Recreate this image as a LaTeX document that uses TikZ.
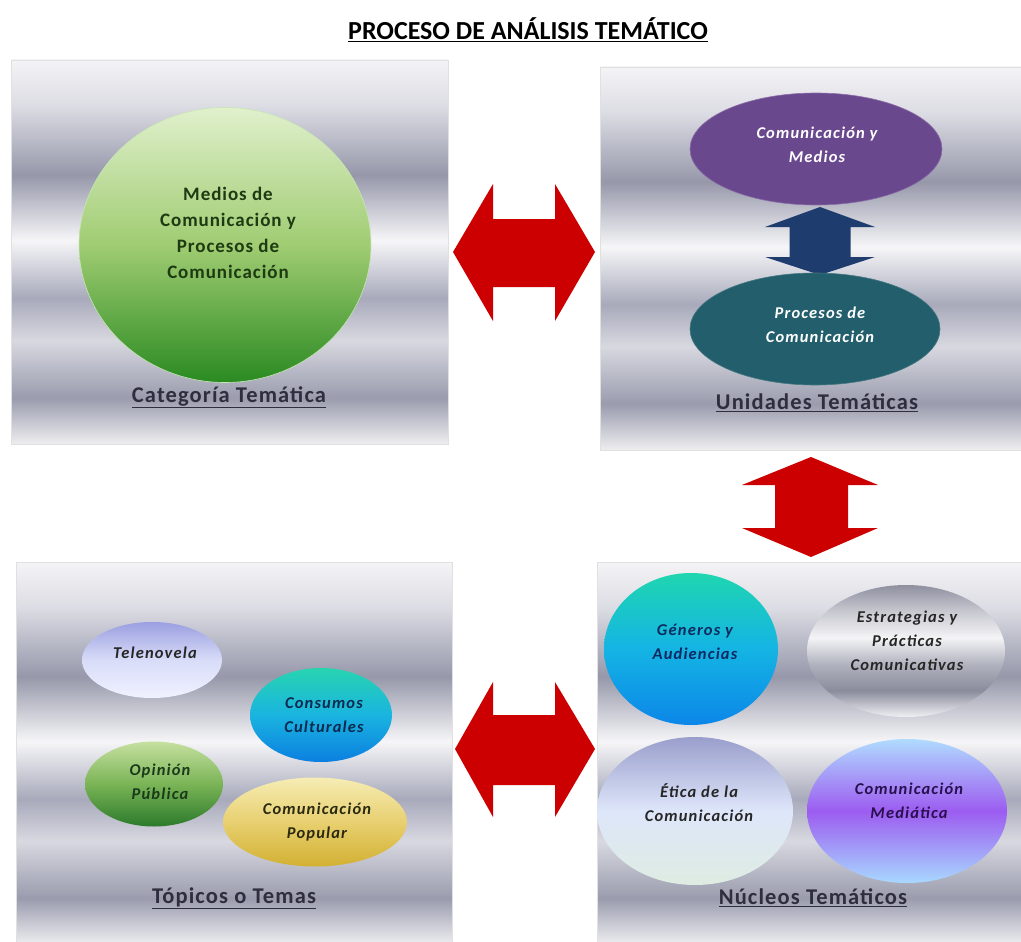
\documentclass[tikz,border=0pt]{standalone}
\usepackage{fontspec}
\setmainfont{Carlito}
\newfontfamily\lsfont[LetterSpace=7]{Carlito}
\newfontfamily\lbfont[LetterSpace=5]{Carlito}
\usetikzlibrary{shapes.geometric}
\definecolor{mA}{HTML}{F4F4F6}
\definecolor{mB}{HTML}{DCDCE4}
\definecolor{mC}{HTML}{9698AA}
\definecolor{mD}{HTML}{F6F6F8}
\definecolor{mE}{HTML}{A8AABB}
\definecolor{mF}{HTML}{D8D8E0}
\definecolor{mG}{HTML}{9A9CAE}
\definecolor{mH}{HTML}{EEEEF0}
\pgfdeclareverticalshading{metal}{100bp}{color(0bp)=(mH); color(25bp)=(mH); color(31bp)=(mG); color(38.5bp)=(mF); color(44bp)=(mE); color(51.5bp)=(mD); color(60bp)=(mC); color(69bp)=(mB); color(75bp)=(mA); color(100bp)=(mA)}
\definecolor{sA}{HTML}{8E90A0}
\definecolor{sB}{HTML}{C8C8D0}
\definecolor{sC}{HTML}{F4F4F6}
\definecolor{sD}{HTML}{B0B2BE}
\definecolor{sE}{HTML}{8A8C9C}
\definecolor{sF}{HTML}{F0F0F4}
\pgfdeclareverticalshading{metaloval}{100bp}{color(0bp)=(sF); color(25bp)=(sF); color(35bp)=(sE); color(45bp)=(sD); color(55bp)=(sC); color(65bp)=(sB); color(75bp)=(sA); color(100bp)=(sA)}
\definecolor{arrowred}{HTML}{CC0000}
\definecolor{arrowblue}{HTML}{1F3C6E}
\definecolor{labelgray}{HTML}{2E2E3E}
\begin{document}
\begin{tikzpicture}[x=1pt,y=-1pt,
  panel/.style={rectangle, shading=metal, draw=black!12, line width=0.8pt, inner sep=0pt},
  oval/.style={ellipse, inner sep=0pt},
  ovaltext/.style={align=center, font=\lsfont\bfseries\itshape\fontsize{16.5}{24}\selectfont},
  paneltitle/.style={font=\lbfont\bfseries\fontsize{22.5}{26}\selectfont, text=labelgray},
  blockarrow/.style={fill=arrowred, draw=none}
]
\path[fill=white] (0,0) rectangle (1021,942);
\useasboundingbox (0,0) rectangle (1021,942);

% title
\node[font=\bfseries\fontsize{26}{30}\selectfont] (title) at (528,30) {\underline{PROCESO DE ANÁLISIS TEMÁTICO}};

% panels
\node[panel, minimum width=437, minimum height=384] (p1) at (229.5,252) {};
\node[panel, minimum width=422, minimum height=383] (p2) at (811,258.5) {};
\node[panel, minimum width=436, minimum height=382] (p3) at (234,753) {};
\node[panel, minimum width=425, minimum height=382] (p4) at (809.5,753) {};

% panel 1
\node[oval, minimum width=292, minimum height=275, top color={rgb,255:red,224;green,240;blue,204}, bottom color={rgb,255:red,42;green,138;blue,34}, middle color={rgb,255:red,160;green,204;blue,114}, draw={rgb,255:red,200;green,230;blue,180}, line width=0.6pt] (cat) at (225,245) {};
\node[align=center, font=\lbfont\bfseries\fontsize{19}{26}\selectfont, text={rgb,255:red,30;green,58;blue,18}] (cattext) at (228,233) {Medios de\\Comunicación y\\Procesos de\\Comunicación};
\node[paneltitle] (l1) at (229,397) {\underline{Categoría Temática}};

% panel 2
\fill[arrowblue] (820,207) -- (875,227) -- (850.5,227) -- (850.5,257) -- (875,257) -- (820,275) -- (765,257) -- (789.5,257) -- (789.5,227) -- (765,227) -- cycle;
\node[oval, minimum width=252, minimum height=112, fill={rgb,255:red,106;green,72;blue,142}, draw={rgb,255:red,140;green,110;blue,170}, line width=0.6pt] (u1) at (816,149) {};
\node[ovaltext, text=white] (u1t) at (817,144.5) {Comunicación y\\Medios};
\node[oval, minimum width=250, minimum height=112, fill={rgb,255:red,34;green,94;blue,108}, draw={rgb,255:red,70;green,120;blue,130}, line width=0.6pt] (u2) at (815,329) {};
\node[ovaltext, text=white] (u2t) at (820,325) {Procesos de\\Comunicación};
\node[paneltitle] (l2) at (817,403) {\underline{Unidades Temáticas}};

% panel 3
\node[oval, minimum width=140, minimum height=76, top color={rgb,255:red,155;green,159;blue,224}, bottom color={rgb,255:red,240;green,242;blue,255}, middle color={rgb,255:red,216;green,220;blue,248}] (t1) at (152,660) {};
\node[ovaltext, text=black!85] (t1t) at (155,653) {Telenovela};
\node[oval, minimum width=142, minimum height=94, top color={rgb,255:red,39;green,212;blue,176}, bottom color={rgb,255:red,11;green,127;blue,224}, middle color={rgb,255:red,26;green,180;blue,224}] (t2) at (321,715) {};
\node[ovaltext, text={rgb,255:red,10;green,42;blue,80}] (t2t) at (324,715) {Consumos\\Culturales};
\node[oval, minimum width=138, minimum height=85, top color={rgb,255:red,198;green,224;blue,160}, bottom color={rgb,255:red,44;green,122;blue,44}, middle color={rgb,255:red,122;green,180;blue,86}] (t3) at (154,784) {};
\node[ovaltext, text={rgb,255:red,26;green,58;blue,26}] (t3t) at (160,781.5) {Opinión\\Pública};
\node[oval, minimum width=184, minimum height=89, top color={rgb,255:red,246;green,236;blue,180}, bottom color={rgb,255:red,210;green,176;blue,50}, middle color={rgb,255:red,232;green,208;blue,112}] (t4) at (315,822) {};
\node[ovaltext, text={rgb,255:red,42;green,42;blue,16}] (t4t) at (317,822.5) {Comunicación\\Popular};
\node[paneltitle] (l3) at (234,898) {\underline{Tópicos o Temas}};

% panel 4
\node[oval, minimum width=174, minimum height=152, top color={rgb,255:red,31;green,214;blue,176}, bottom color={rgb,255:red,12;green,134;blue,232}, middle color={rgb,255:red,20;green,180;blue,228}] (n1) at (691,649) {};
\node[ovaltext, text={rgb,255:red,10;green,42;blue,96}] (n1t) at (695,641.5) {Géneros y\\Audiencias};
\node[oval, minimum width=198, minimum height=132, shading=metaloval] (n2) at (906,651) {};
\node[ovaltext, text=black!85] (n2t) at (907,641) {Estrategias y\\Prácticas\\Comunicativas};
\node[oval, minimum width=196, minimum height=148, top color={rgb,255:red,154;green,158;blue,204}, bottom color={rgb,255:red,222;green,236;blue,226}, middle color={rgb,255:red,222;green,230;blue,250}] (n3) at (695,811) {};
\node[ovaltext, text=black!85] (n3t) at (699,802.5) {Ética de la\\Comunicación};
\node[oval, minimum width=200, minimum height=144, top color={rgb,255:red,176;green,220;blue,255}, bottom color={rgb,255:red,168;green,216;blue,255}, middle color={rgb,255:red,156;green,92;blue,240}] (n4) at (907,811) {};
\node[ovaltext, text={rgb,255:red,42;green,16;blue,80}] (n4t) at (909,800.5) {Comunicación\\Mediática};
\node[paneltitle] (l4) at (813,898) {\underline{Núcleos Temáticos}};

% red block arrows between panels
\fill[blockarrow] (453,252) -- (493,184) -- (493,219) -- (555,219) -- (555,184) -- (595,252) -- (555,321) -- (555,287) -- (493,287) -- (493,321) -- cycle;
\fill[blockarrow] (811,457) -- (878,485) -- (848,485) -- (848,528) -- (878,528) -- (811,557) -- (742,528) -- (775,528) -- (775,485) -- (742,485) -- cycle;
\fill[blockarrow] (455,749) -- (493,682) -- (493,715) -- (555,715) -- (555,682) -- (595,749) -- (555,817) -- (555,785) -- (493,785) -- (493,817) -- cycle;
\end{tikzpicture}
\end{document}
